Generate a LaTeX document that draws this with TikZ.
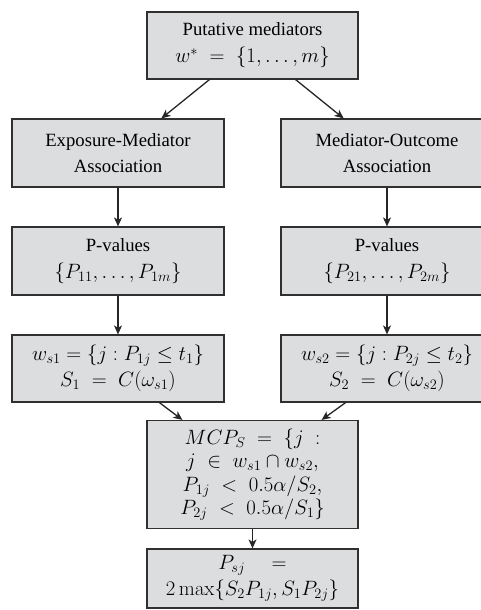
\documentclass[tikz,border=0pt]{standalone}
\usepackage[no-math]{fontspec}
\setmainfont{Liberation Serif}
\usetikzlibrary{arrows.meta,calc}
\definecolor{boxfill}{HTML}{DCDDDE}
\definecolor{boxline}{HTML}{303030}
\newcommand{\mline}[1]{{\fontsize{20.74}{\baselineskip}\selectfont$#1$}}
\tikzset{
  box/.style={draw=boxline, fill=boxfill, line width=1.2pt, align=center,
    inner sep=0pt, font=\fontsize{18.7}{27}\selectfont},
  wide/.style={box, minimum width=212pt, minimum height=68pt},
  tight/.style={font=\fontsize{18.7}{23.5}\selectfont},
  conn/.style={draw=black!85, line width=1.3pt, -{Stealth[length=9pt,width=8pt,inset=2.5pt]}}
}
\begin{document}
\begin{tikzpicture}[x=1pt,y=-1pt]
\useasboundingbox (0,0) rectangle (480,610);
\node[wide, minimum width=211pt, minimum height=67pt] (top) at (252.5,45.5)
  {Putative mediators\\ \mline{w^{*} \;=\; \{1,\ldots,m\}}};
\node[wide, font=\fontsize{18.7}{26}\selectfont] (em) at (118,153) {Exposure-Mediator\\ Association};
\node[wide, font=\fontsize{18.7}{26}\selectfont] (mo) at (387,153) {Mediator-Outcome\\ Association};
\node[wide] (p1) at (118,261) {P-values\\ \mline{\{P_{11},\ldots,P_{1m}\}}};
\node[wide] (p2) at (387,261) {P-values\\ \mline{\{P_{21},\ldots,P_{2m}\}}};
\node[wide, minimum height=67pt, font=\fontsize{18.7}{26}\selectfont] (w1) at (118,368.5)
  {\mline{w_{s1} = \{j : P_{1j} \le t_1\}}\\ \mline{S_1 \;=\; C(\omega_{s1})}};
\node[wide, minimum height=67pt, font=\fontsize{18.7}{26}\selectfont] (w2) at (387,368.5)
  {\mline{w_{s2} = \{j : P_{2j} \le t_2\}}\\ \mline{S_2 \;=\; C(\omega_{s2})}};
\node[box, tight, minimum width=211pt, minimum height=108pt] (mcp) at (252.5,474.5)
  {\mline{MCP_S \;=\; \{j \;:}\\ \mline{j \;\in\; w_{s1} \cap w_{s2},}\\
   \mline{P_{1j} \;<\; 0.5\alpha/S_2,}\\ \mline{P_{2j} \;<\; 0.5\alpha/S_1\}}};
\node[box, minimum width=211pt, minimum height=59pt, font=\fontsize{18.7}{26}\selectfont] (fin) at (252.5,578.5)
  {\mline{P_{sj} \quad =}\\ \mline{2\max\{S_2P_{1j},S_1P_{2j}\}}};
\draw[conn] ([xshift=63pt]top.south west) -- ([xshift=150pt]em.north west);
\draw[conn] ([xshift=-63pt]top.south east) -- ([xshift=-150pt]mo.north east);
\draw[conn] (em) -- (p1);
\draw[conn] (mo) -- (p2);
\draw[conn] (p1) -- (w1);
\draw[conn] (p2) -- (w2);
\draw[conn] ([xshift=148pt]w1.south west) -- ([xshift=36pt]mcp.north west);
\draw[conn] ([xshift=-148pt]w2.south east) -- ([xshift=-37pt]mcp.north east);
\draw[conn] (mcp) -- (fin);
\end{tikzpicture}
\end{document}
